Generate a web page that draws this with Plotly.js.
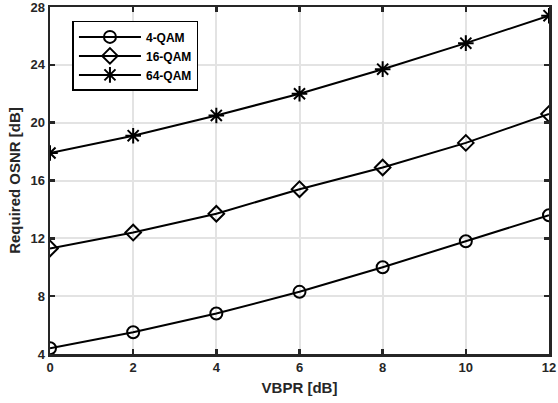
<!DOCTYPE html>
<html><head><meta charset="utf-8">
<script src="https://cdn.plot.ly/plotly-3.0.1.min.js"></script>
<style>html,body{margin:0;padding:0;background:#fff}#g{width:558px;height:403px}</style>
</head><body><div id="g"></div>
<script>
var vbpr = [0, 2, 4, 6, 8, 10, 12];
var qam4 = [4.4, 5.5, 6.8, 8.3, 10.0, 11.8, 13.6];
var qam16 = [11.3, 12.4, 13.7, 15.4, 16.9, 18.6, 20.6];
var qam64 = [17.9, 19.1, 20.5, 22.0, 23.7, 25.5, 27.4];
var names = ['4-QAM', '16-QAM', '64-QAM'];
var symbols = ['circle-open', 'diamond-open', 'asterisk-open'];
var yTicks = [4, 8, 12, 16, 20, 24, 28];
var xTicks = [0, 2, 4, 6, 8, 10, 12];

var series = [qam4, qam16, qam64];
var traces = series.map(function (ys, i) {
  return {
    x: vbpr, y: ys, name: names[i], mode: 'lines+markers', type: 'scatter',
    line: {color: '#000', width: 2},
    marker: {symbol: symbols[i], size: i === 2 ? 13 : 12, color: '#000', line: {color: '#000', width: 2}}
  };
});

var fontBase = {family: 'Liberation Sans, Arial, sans-serif', color: '#262626', weight: 'bold'};
var axisCommon = {
  showline: true, linecolor: '#262626', linewidth: 2.5, mirror: 'ticks',
  ticks: 'inside', ticklen: 5, tickwidth: 2.5, tickcolor: '#262626',
  showgrid: true, gridcolor: '#e3e3e3', gridwidth: 2, zeroline: false,
  ticklabeloverflow: 'allow',
  tickfont: Object.assign({size: 13}, fontBase)
};

var layout = {
  width: 558, height: 403,
  margin: {l: 50, r: 9, t: 7, b: 49},
  paper_bgcolor: '#fff', plot_bgcolor: '#fff',
  showlegend: true,
  legend: {
    x: 0.045, y: 0.96, xanchor: 'left', yanchor: 'top',
    bgcolor: '#fff', bordercolor: '#000', borderwidth: 1.5,
    font: Object.assign({size: 12}, fontBase, {color: '#000'}),
    itemwidth: 62, tracegroupgap: 0
  },
  xaxis: Object.assign({}, axisCommon, {
    range: [0, 12], tickvals: xTicks, ticktext: xTicks.map(String),
    title: {text: 'VBPR [dB]', font: Object.assign({size: 15}, fontBase), standoff: 9}
  }),
  yaxis: Object.assign({}, axisCommon, {
    range: [4, 28], tickvals: yTicks, ticktext: yTicks.map(String),
    title: {text: 'Required OSNR [dB]', font: Object.assign({size: 15}, fontBase), standoff: 6}
  })
};

Plotly.newPlot('g', traces, layout, {displayModeBar: false, staticPlot: true});
</script>
</body></html>
